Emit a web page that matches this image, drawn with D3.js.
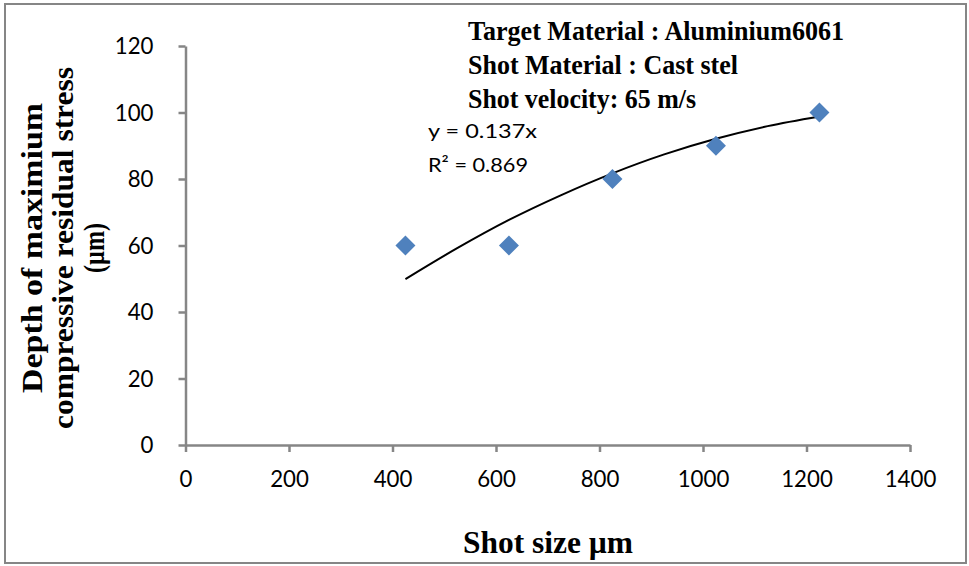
<!DOCTYPE html>
<html><head><meta charset="utf-8">
<script src="https://cdn.jsdelivr.net/npm/d3@7"></script>
<style>html,body{margin:0;padding:0;background:#fff;}</style>
</head><body>
<svg id="c" width="969" height="566"></svg>
<script>
const shotSize = [425, 625, 825, 1025, 1225];
const depth = [60, 60, 80, 90, 100];
const trendX = [425, 525, 625, 725, 825, 925, 1025, 1125, 1225];
const trendY = [49.9, 59.2, 67.7, 75.1, 81.7, 87.4, 92.1, 95.9, 98.8];
const xTicks = [0, 200, 400, 600, 800, 1000, 1200, 1400];
const yTicks = [0, 20, 40, 60, 80, 100, 120];
const annotation = ["Target Material : Aluminium6061", "Shot Material : Cast stel", "Shot velocity: 65 m/s"];
const equation = ["y = 0.137x", "R\u00b2 = 0.869"];
const xTitle = "Shot size \u00b5m";
const yTitle = ["Depth of maximium", "compressive residual stress", "(\u00b5m)"];

const serif = "'Liberation Serif', 'Times New Roman', serif";
const sans = "Lato, 'Open Sans', sans-serif";
const axisColor = "#868686";

const svg = d3.select("#c");
svg.append("rect").attr("x", 5).attr("y", 4).attr("width", 961).attr("height", 559)
  .attr("fill", "#fff").attr("stroke", "#868686").attr("stroke-width", 2);

const x = d3.scaleLinear().domain([0, 1400]).range([185.5, 910]);
const y = d3.scaleLinear().domain([0, 120]).range([445, 46]);

const xa = svg.append("g").attr("transform", "translate(0,445)")
  .call(d3.axisBottom(x).tickValues(xTicks).tickFormat(d3.format("d")).tickSize(7).tickPadding(18).tickSizeOuter(0));
const ya = svg.append("g").attr("transform", "translate(185.5,0)")
  .call(d3.axisLeft(y).tickValues(yTicks).tickFormat(d3.format("d")).tickSize(7).tickPadding(25).tickSizeOuter(0));
[xa, ya].forEach(g => {
  g.select(".domain").attr("stroke", axisColor).attr("stroke-width", 2.5);
  g.selectAll(".tick line").attr("stroke", axisColor).attr("stroke-width", 2.5);
  g.selectAll(".tick text").attr("fill", "#000").style("font-family", sans).style("font-size", "24px")
    .attr("textLength", function() { return this.textContent.length * 12.9; })
    .attr("lengthAdjust", "spacingAndGlyphs");
});
xa.selectAll(".tick text").attr("dy", "0.71em");

const line = d3.line().x(d => x(d[0])).y(d => y(d[1])).curve(d3.curveMonotoneX);
svg.append("path").datum(trendX.map((v, i) => [v, trendY[i]]))
  .attr("d", line).attr("fill", "none").attr("stroke", "#000").attr("stroke-width", 2);

svg.selectAll(".pt").data(shotSize.map((v, i) => [v, depth[i]])).enter().append("path")
  .attr("class", "pt")
  .attr("transform", d => `translate(${x(d[0])},${y(d[1])})`)
  .attr("d", "M0,-10L10,0L0,10L-10,0Z").attr("fill", "#4F81BD");

const annLen = [376, 270, 228];
svg.selectAll(".ann").data(annotation).enter().append("text")
  .attr("x", 468).attr("y", (d, i) => 40 + i * 34)
  .attr("textLength", (d, i) => annLen[i]).attr("lengthAdjust", "spacingAndGlyphs")
  .style("font-family", serif).style("font-weight", "bold").style("font-size", "28px").text(d => d);

const eqLen = [109, 100];
svg.selectAll(".eq").data(equation).enter().append("text")
  .attr("x", 428).attr("y", (d, i) => 138 + i * 34)
  .attr("textLength", (d, i) => eqLen[i]).attr("lengthAdjust", "spacingAndGlyphs")
  .style("font-family", sans).style("font-size", "20px").text(d => d);

svg.append("text").attr("x", 548).attr("y", 553).attr("text-anchor", "middle")
  .attr("textLength", 170).attr("lengthAdjust", "spacingAndGlyphs")
  .style("font-family", serif).style("font-weight", "bold").style("font-size", "32px").text(xTitle);

const yLen = [290, 362, 50];
const yt = svg.append("text").attr("transform", "translate(0,248) rotate(-90)")
  .attr("text-anchor", "middle")
  .style("font-family", serif).style("font-weight", "bold").style("font-size", "30px");
yTitle.forEach((t, i) => yt.append("tspan").attr("x", 0).attr("y", 42 + i * 31)
  .attr("textLength", yLen[i]).attr("lengthAdjust", "spacingAndGlyphs").text(t));
</script>
</body></html>
